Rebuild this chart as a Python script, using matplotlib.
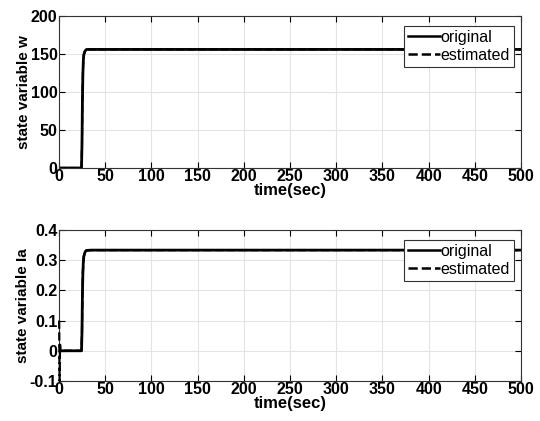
import matplotlib.pyplot as plt

plt.rcParams["font.family"] = ["Liberation Sans", "DejaVu Sans"]

# time samples (sec)
t = [0, 24.5, 25, 25.5, 26, 26.5, 27, 28, 29, 30, 35, 500]

# state variable w (speed)
w_orig = [0, 0, 30, 90, 125, 142, 149, 153, 155, 156, 156, 156]
w_est = [0, 0, 30, 90, 125, 142, 149, 153, 155, 156, 156, 156]

# state variable Ia (current)
ia_orig = [0, 0, 0.06, 0.19, 0.26, 0.295, 0.312, 0.324, 0.33, 0.332, 0.333, 0.333]
t_est_ia = [0.3, 0.8, 1.3, 2.0, 24.5, 25, 25.5, 26, 26.5, 27, 28, 29, 30, 35, 500]
ia_est = [0.1, -0.1, 0.02, 0, 0, 0.06, 0.19, 0.26, 0.295, 0.312, 0.324, 0.33, 0.332, 0.333, 0.333]

xticks = list(range(0, 501, 50))

fig = plt.figure(figsize=(5.4, 4.21), dpi=100)
ax1 = fig.add_axes([0.109, 0.601, 0.856, 0.361])
ax2 = fig.add_axes([0.109, 0.095, 0.856, 0.359])


def style(ax, ylabel, yticks, ylim, ticklabels):
    ax.set_xlim(0, 500)
    ax.set_ylim(*ylim)
    ax.set_xticks(xticks)
    ax.set_yticks(yticks)
    ax.set_yticklabels(ticklabels)
    ax.grid(True, color="#e3e3e3", linewidth=0.8)
    ax.set_axisbelow(True)
    ax.tick_params(direction="in", top=True, right=True, length=4,
                   labelsize=11.5, pad=1)
    for lab in ax.get_xticklabels() + ax.get_yticklabels():
        lab.set_fontweight("bold")
    for sp in ax.spines.values():
        sp.set_linewidth(0.8)
        sp.set_color("#333333")
    ax.set_xlabel("time(sec)", fontsize=12, fontweight="bold", labelpad=-1)
    ax.set_ylabel(ylabel, fontsize=11, fontweight="bold", labelpad=0)
    leg = ax.legend(loc="upper right", bbox_to_anchor=(0.985, 0.935),
                    fontsize=11.5, frameon=True, fancybox=False,
                    edgecolor="#333333", framealpha=1, handlelength=2.0,
                    handletextpad=0.05, borderpad=0.25, labelspacing=0.2,
                    borderaxespad=0)
    leg.get_frame().set_linewidth(0.8)
    for line in leg.get_lines():
        line.set_linewidth(1.8)


ax1.plot(t, w_orig, color="black", linewidth=2, label="original")
ax1.plot(t, w_est, color="black", linewidth=1.5, linestyle="--", label="estimated")
style(ax1, "state variable w", [0, 50, 100, 150, 200], (0, 200),
      ["0", "50", "100", "150", "200"])

ax2.plot(t, ia_orig, color="black", linewidth=2, label="original")
ax2.plot(t_est_ia, ia_est, color="black", linewidth=1.6, linestyle="--",
         label="estimated", zorder=3, clip_on=False)
style(ax2, "state variable Ia", [-0.1, 0, 0.1, 0.2, 0.3, 0.4], (-0.1, 0.4),
      ["-0.1", "0", "0.1", "0.2", "0.3", "0.4"])

fig.savefig("out.png", dpi=100, facecolor="white")
